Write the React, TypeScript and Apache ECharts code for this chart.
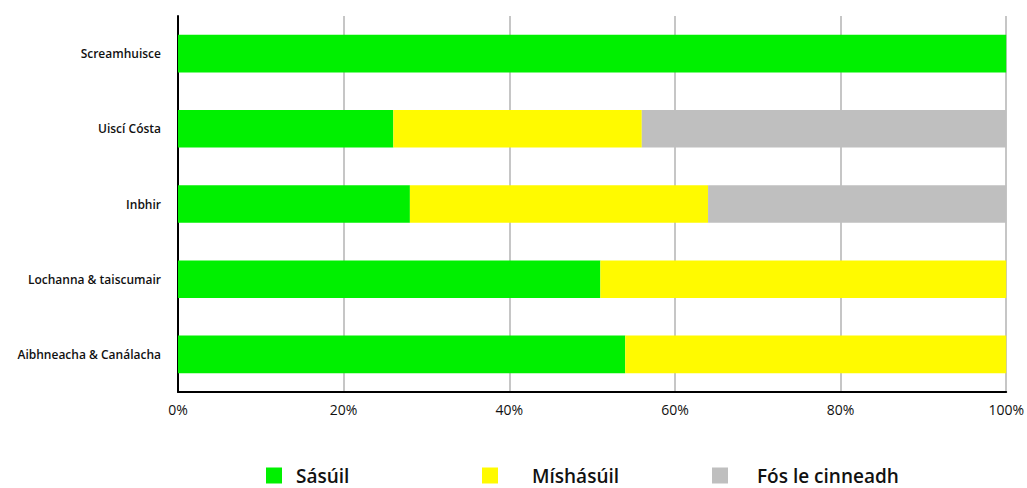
import React, { useEffect, useRef } from "react";
import * as echarts from "echarts";

const categories = [
  "Aibhneacha & Canálacha",
  "Lochanna & taiscumair",
  "Inbhir",
  "Uiscí Cósta",
  "Screamhuisce",
];
const satisfactory = [54, 51, 28, 26, 100];
const unsatisfactory = [46, 49, 36, 30, 0];
const undecided = [0, 0, 36, 44, 0];
const seriesNames = ["Sásúil", "Míshásúil", "Fós le cinneadh"];
const colors = ["#00f000", "#fffa00", "#bfbfbf"];
const xTicks = [0, 20, 40, 60, 80, 100];

const FONT = "'Open Sans', 'Noto Sans', sans-serif";

export default function App() {
  const ref = useRef<HTMLDivElement>(null);
  useEffect(() => {
    document.body.style.margin = "0";
    const chart = echarts.init(ref.current!, null, { renderer: "svg" });
    const dataSets = [satisfactory, unsatisfactory, undecided];
    const legendLefts = [266, 482, 712];
    const textPads = [9, 29, 24];
    chart.setOption({
      animation: false,
      textStyle: { fontFamily: FONT },
      grid: { left: 178, right: 15, top: 16, bottom: 96 },
      legend: seriesNames.map((n, i) => ({
        data: [n],
        left: legendLefts[i],
        top: 466,
        padding: 0,
        itemWidth: 16,
        itemHeight: 16,
        itemGap: 0,
        icon: "rect",
        selectedMode: false,
        textStyle: {
          fontFamily: FONT,
          fontSize: 19,
          fontWeight: 600,
          lineHeight: 16,
          color: "#111",
          padding: [0, 0, 0, textPads[i]],
        },
      })),
      xAxis: {
        type: "value",
        min: 0,
        max: 100,
        interval: 20,
        axisLine: { show: true, lineStyle: { color: "#000", width: 2 } },
        axisTick: { show: false },
        splitLine: { show: true, lineStyle: { color: "#b3b3b3", width: 1.5 } },
        axisLabel: {
          formatter: (v: number) => (xTicks.includes(v) ? v + "%" : ""),
          fontFamily: FONT,
          fontSize: 14,
          color: "#111",
          margin: 10,
        },
      },
      yAxis: {
        type: "category",
        data: categories,
        axisLine: { show: true, lineStyle: { color: "#000", width: 2 } },
        axisTick: { show: false },
        axisLabel: {
          fontFamily: FONT,
          fontSize: 12,
          fontWeight: 600,
          color: "#111",
          margin: 17,
        },
      },
      series: seriesNames.map((n, i) => ({
        name: n,
        type: "bar",
        stack: "total",
        barWidth: "50%",
        itemStyle: { color: colors[i] },
        data: dataSets[i],
      })),
    });
    return () => chart.dispose();
  }, []);
  return <div ref={ref} style={{ width: 1027, height: 488 }} />;
}
